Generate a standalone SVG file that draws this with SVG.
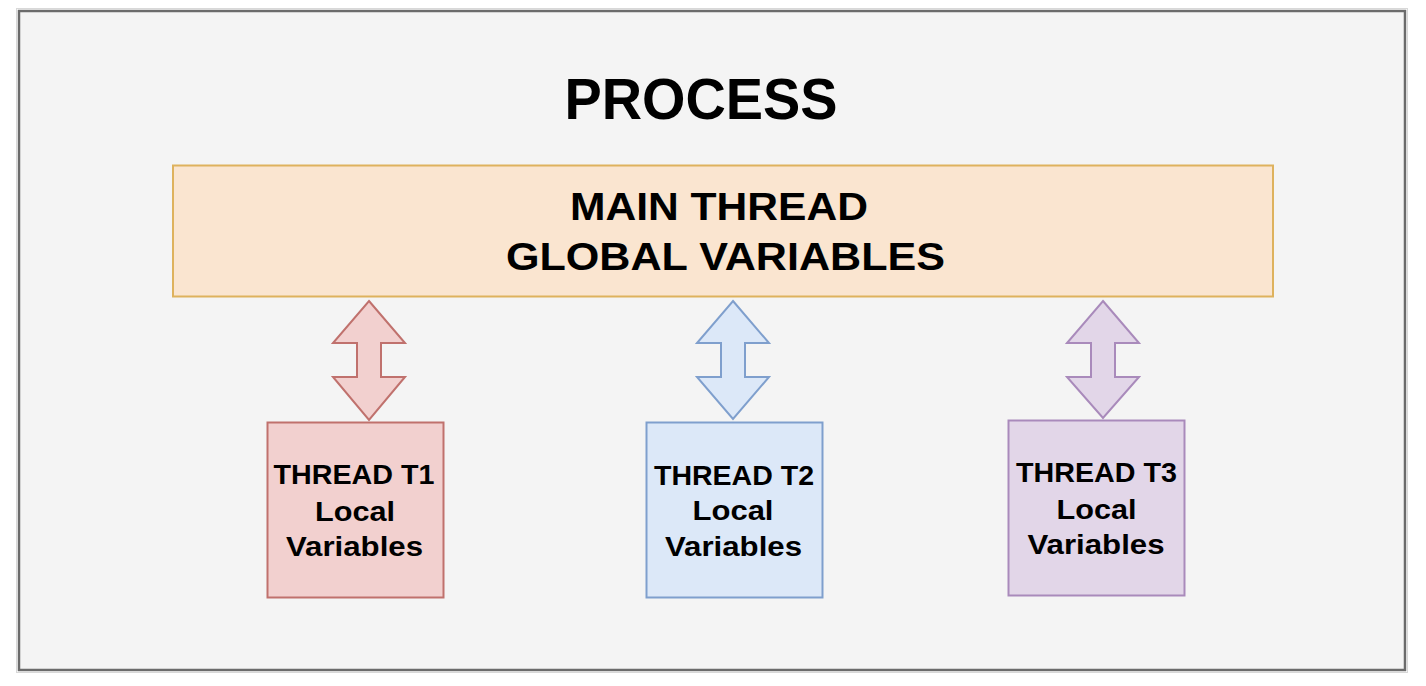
<svg xmlns="http://www.w3.org/2000/svg" width="1426" height="686" viewBox="0 0 1426 686">
<style>
.t{font-family:"Liberation Sans",Arial,sans-serif;font-weight:bold;fill:#000;text-anchor:middle}
.arr{stroke-width:2;stroke-linejoin:miter}
</style>
<rect width="1426" height="686" fill="#ffffff"/>
<g id="process">
<rect x="16.5" y="8.5" width="1391" height="664" fill="none" stroke="#d8d8d8" stroke-width="1"/>
<rect x="19" y="11" width="1386" height="659" fill="#f4f4f4" stroke="#6b6b6b" stroke-width="2.5"/>
<text class="t" x="701" y="119" font-size="57" textLength="273" lengthAdjust="spacingAndGlyphs">PROCESS</text>
</g>
<g id="main">
<rect x="173" y="165.5" width="1100" height="131" fill="#fae5d0" stroke="#deb25d" stroke-width="2"/>
<text class="t" x="719" y="220" font-size="39" textLength="298" lengthAdjust="spacingAndGlyphs">MAIN THREAD</text>
<text class="t" x="725.5" y="270" font-size="39" textLength="439" lengthAdjust="spacingAndGlyphs">GLOBAL VARIABLES</text>
</g>
<g id="connectors">
<path class="arr" d="M369,301 L405,343 L381,343 L381,377 L405,377 L369,420 L333,377 L357,377 L357,343 L333,343 Z" fill="#f2d0cf" stroke="#c0716d"/>
<path class="arr" d="M733,301 L769,343 L745,343 L745,377 L769,377 L733,419 L697,377 L721,377 L721,343 L697,343 Z" fill="#dce8f8" stroke="#7f9fcd"/>
<path class="arr" d="M1103,301 L1139,343 L1115,343 L1115,377 L1139,377 L1103,418 L1067,377 L1091,377 L1091,343 L1067,343 Z" fill="#e2d6e8" stroke="#a98abb"/>
</g>
<g id="t1">
<rect x="267.5" y="422.5" width="176" height="175" fill="#f2d0cf" stroke="#c0716d" stroke-width="2"/>
<text class="t" x="354" y="484" font-size="28" textLength="161" lengthAdjust="spacingAndGlyphs">THREAD T1</text>
<text class="t" x="355" y="521" font-size="28" textLength="80" lengthAdjust="spacingAndGlyphs">Local</text>
<text class="t" x="354.5" y="556" font-size="28" textLength="137" lengthAdjust="spacingAndGlyphs">Variables</text>
</g>
<g id="t2">
<rect x="646.5" y="422.5" width="176" height="175" fill="#dce8f8" stroke="#7f9fcd" stroke-width="2"/>
<text class="t" x="734" y="485" font-size="28" textLength="160" lengthAdjust="spacingAndGlyphs">THREAD T2</text>
<text class="t" x="733" y="520" font-size="28" textLength="81" lengthAdjust="spacingAndGlyphs">Local</text>
<text class="t" x="733.5" y="556" font-size="28" textLength="137" lengthAdjust="spacingAndGlyphs">Variables</text>
</g>
<g id="t3">
<rect x="1008.5" y="420.5" width="176" height="175" fill="#e2d6e8" stroke="#a98abb" stroke-width="2"/>
<text class="t" x="1096.5" y="482" font-size="28" textLength="161" lengthAdjust="spacingAndGlyphs">THREAD T3</text>
<text class="t" x="1096.5" y="519" font-size="28" textLength="80" lengthAdjust="spacingAndGlyphs">Local</text>
<text class="t" x="1096" y="554" font-size="28" textLength="137" lengthAdjust="spacingAndGlyphs">Variables</text>
</g>
</svg>
